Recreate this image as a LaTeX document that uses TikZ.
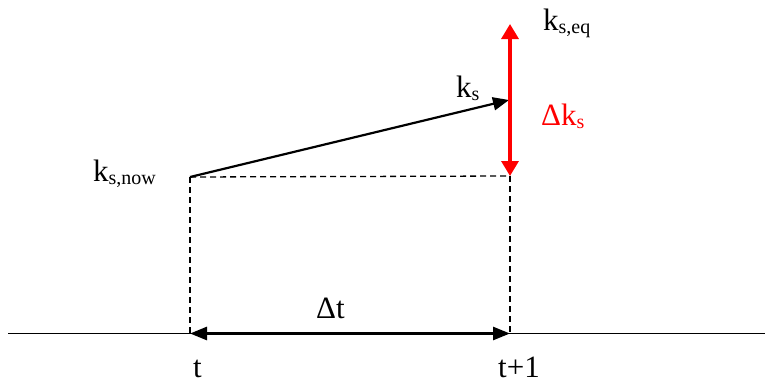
\documentclass[tikz,border=0pt]{standalone}
\usepackage{fontspec}
\setmainfont{Liberation Serif}
\usetikzlibrary{arrows.meta}
\newcommand{\mysub}[1]{\raisebox{-3pt}{\fontsize{20}{20}\selectfont #1}}
\begin{document}
\begin{tikzpicture}[x=1pt,y=-1pt,
  lbl/.style={inner sep=0pt,anchor=base west,font=\fontsize{31}{34}\selectfont},
  dashline/.style={dash pattern=on 6pt off 4pt,line width=1.3pt},
  axisline/.style={line width=1.5pt},
  ksarrow/.style={line width=2.2pt,-{Triangle[length=16pt,width=13pt]}},
  redarrow/.style={red,line width=3.3pt,{Triangle[length=15pt,width=17pt]}-{Triangle[length=15pt,width=17pt]}},
  dtarrow/.style={line width=2.7pt,{Triangle[length=17pt,width=13pt]}-{Triangle[length=17pt,width=13pt]}}]
\useasboundingbox (0,0) rectangle (765,383);
\coordinate (p0) at (190,177);
\coordinate (p1) at (510,176);
\coordinate (ke) at (509,100);
\coordinate (top) at (510,24);
\coordinate (a0) at (190,333.5);
\coordinate (a1) at (510,333.5);
\coordinate (axl) at (8,333.5);
\coordinate (axr) at (765,333.5);
% axis
\draw[axisline] (axl) -- (axr);
% dashed lines
\draw[dashline] (p0) -- (p1);
\draw[dashline] (p0) -- (a0);
\draw[dashline] (p1) -- (a1);
% arrows
\draw[ksarrow] (p0) -- (ke);
\draw[redarrow] (top) -- (p1);
\draw[dtarrow] (a0) -- (a1);
% labels
\node[lbl] (ksnow) at (93,181) {k\mysub{s,now}};
\node[lbl] (ks) at (456,97) {k\mysub{s}};
\node[lbl] (kseq) at (543,30) {k\mysub{s,eq}};
\node[lbl,red] (dks) at (541,125) {Δk\mysub{s}};
\node[lbl] (dt) at (316,318) {Δt};
\node[lbl,text depth=0pt] (t) at (193,377) {t};
\node[lbl,text depth=0pt] (t1) at (498,377) {t+1};
\end{tikzpicture}
\end{document}
